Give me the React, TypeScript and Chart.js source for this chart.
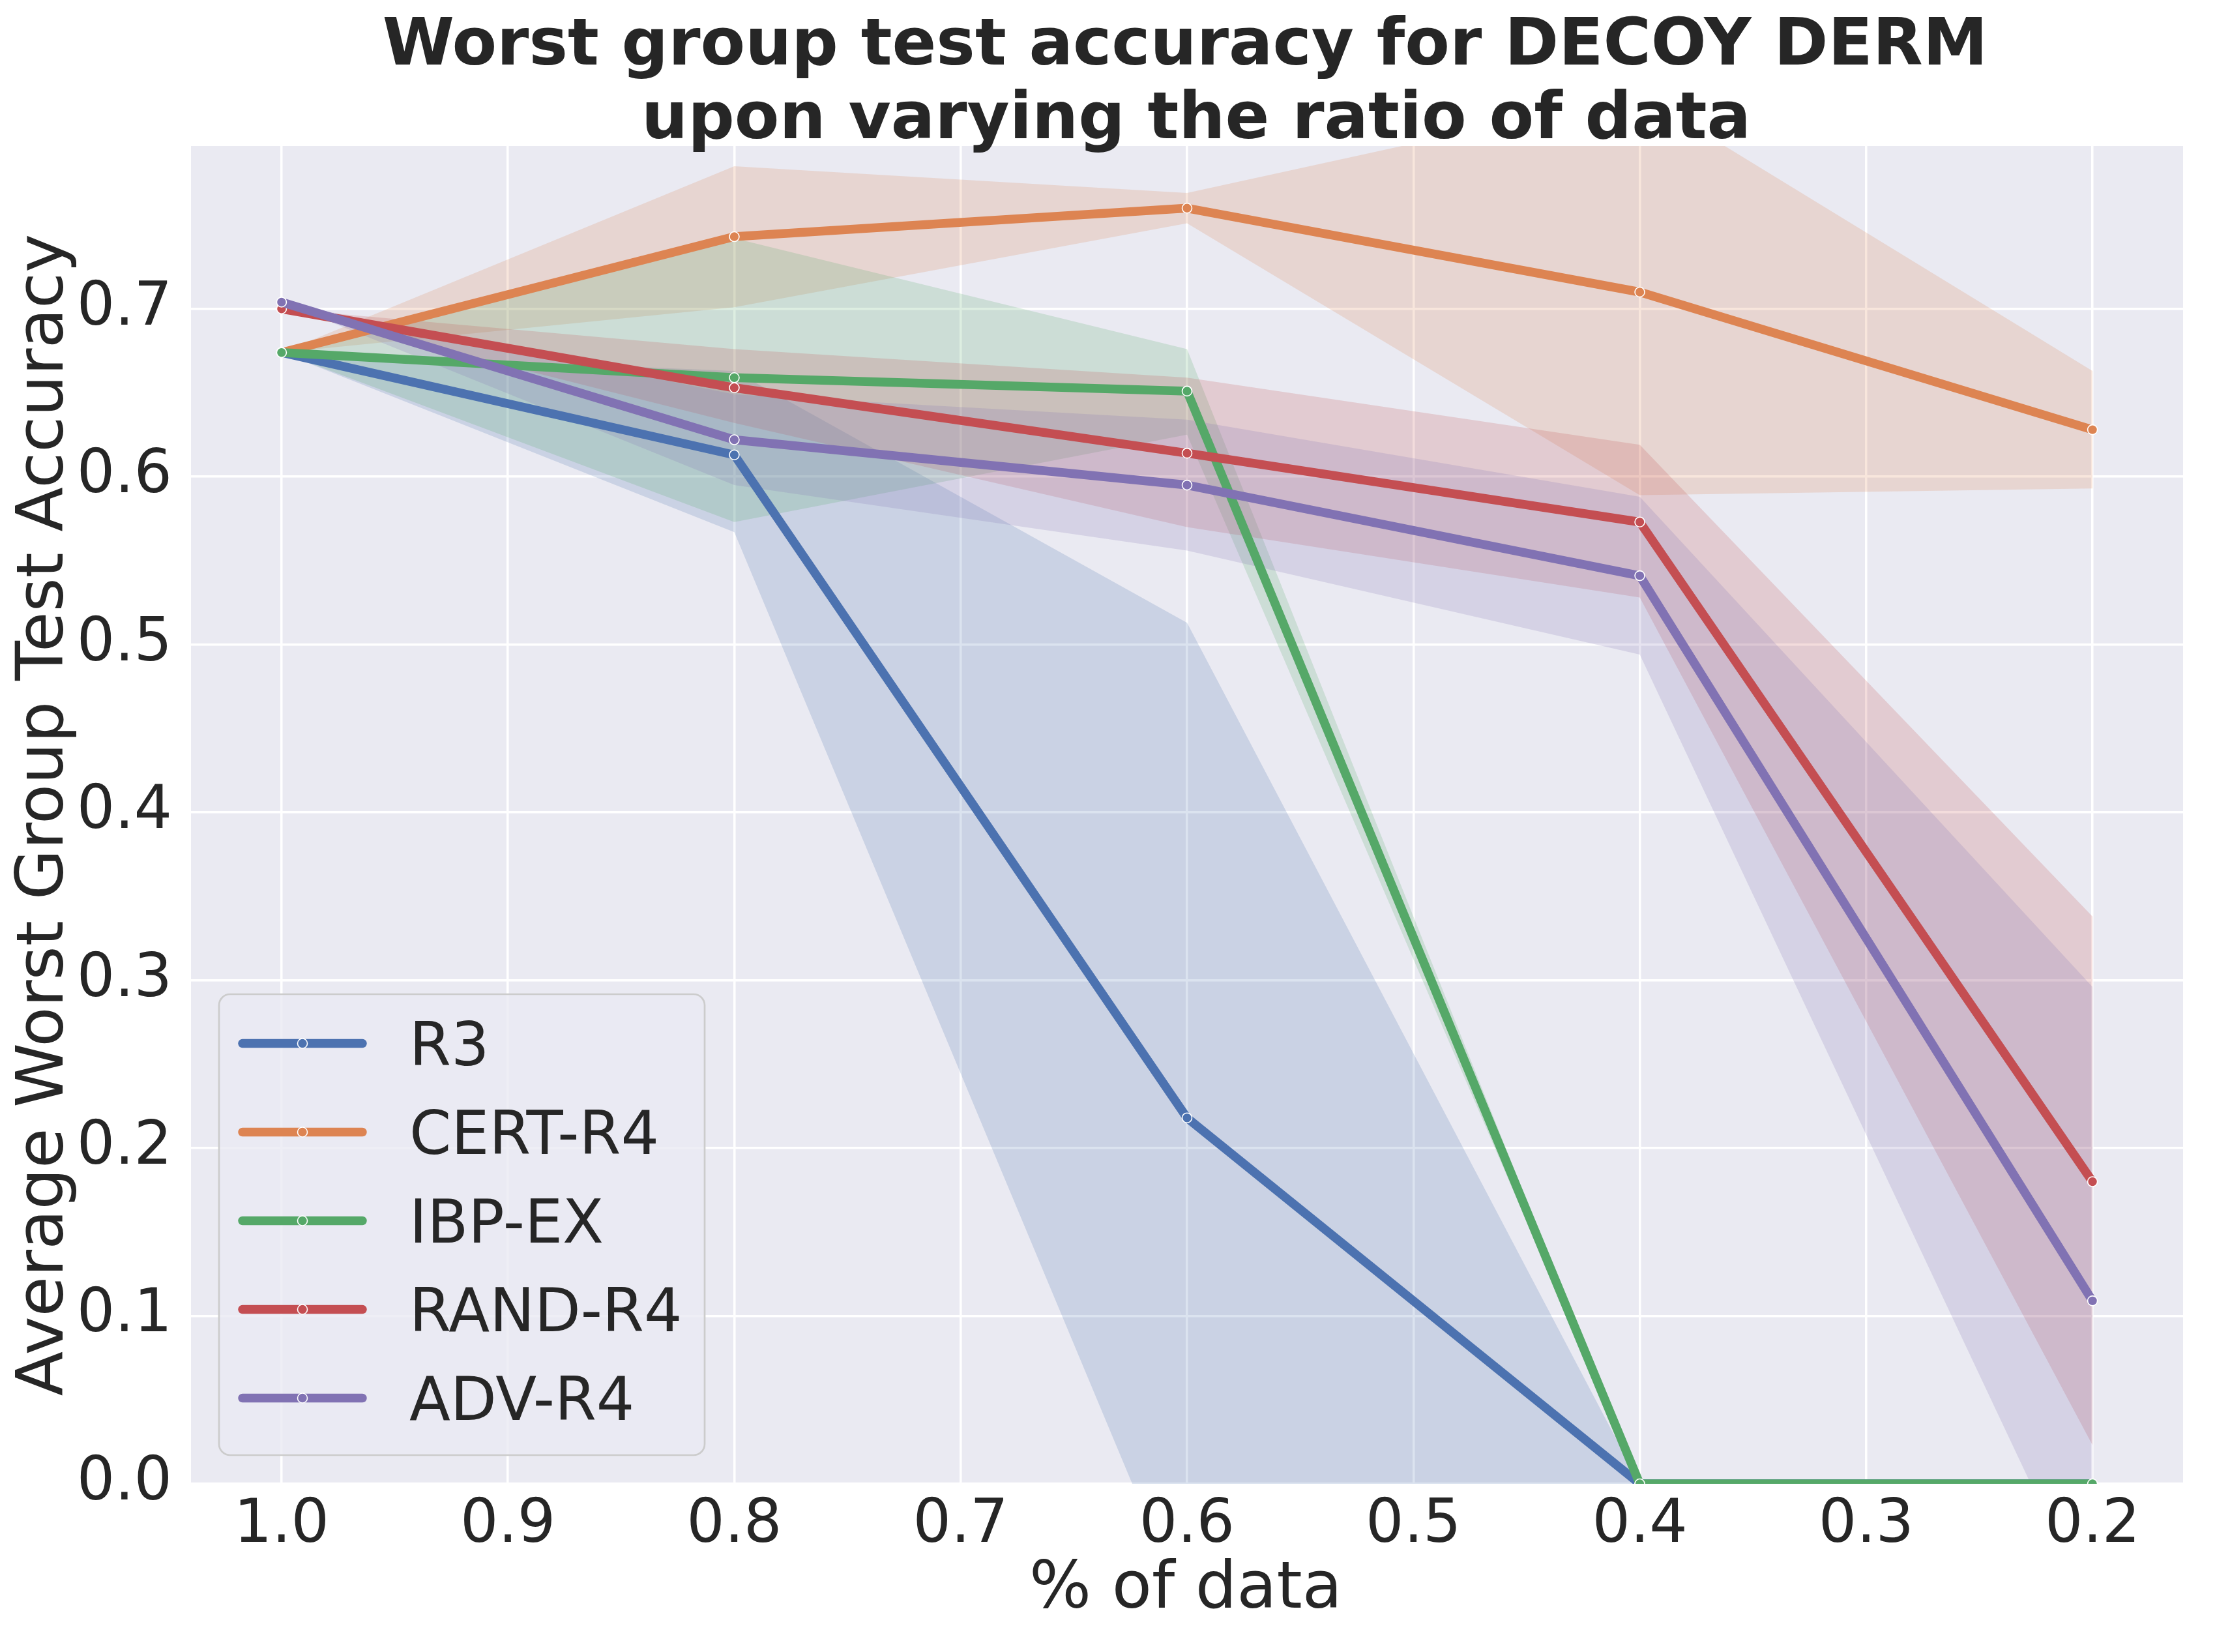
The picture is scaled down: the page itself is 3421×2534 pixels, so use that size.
import { useEffect, useRef } from 'react';
import { Chart, registerables } from 'chart.js';

Chart.register(...registerables);

const W = 3421;
const H = 2534;
const FONT = '"DejaVu Sans", sans-serif';
const TEXT = '#262626';

// % of data (x axis, reversed)
const ratios = [1.0, 0.8, 0.6, 0.4, 0.2];
const xTickValues = [1.0, 0.9, 0.8, 0.7, 0.6, 0.5, 0.4, 0.3, 0.2];
const yTickValues = [0.0, 0.1, 0.2, 0.3, 0.4, 0.5, 0.6, 0.7];

const seriesNames = ['R3', 'CERT-R4', 'IBP-EX', 'RAND-R4', 'ADV-R4'];
const colors = ['#4c72b0', '#dd8452', '#55a868', '#c44e52', '#8172b3'];

// mean worst group accuracy
const r3Mean = [0.674, 0.613, 0.218, 0.0, 0.0];
const certMean = [0.674, 0.743, 0.76, 0.71, 0.628];
const ibpMean = [0.674, 0.659, 0.651, 0.0, 0.0];
const randMean = [0.7, 0.653, 0.614, 0.573, 0.18];
const advMean = [0.704, 0.622, 0.595, 0.541, 0.109];

// confidence band edges
const r3Upper = [0.674, 0.663, 0.513, 0.0, 0.0];
const r3Lower = [0.674, 0.567, -0.078, 0.0, 0.0];
const certUpper = [0.674, 0.785, 0.769, 0.828, 0.663];
const certLower = [0.674, 0.701, 0.751, 0.589, 0.593];
const ibpUpper = [0.674, 0.742, 0.676, 0.0, 0.0];
const ibpLower = [0.674, 0.573, 0.625, 0.0, 0.0];
const randUpper = [0.7, 0.676, 0.659, 0.619, 0.338];
const randLower = [0.7, 0.632, 0.57, 0.528, 0.023];
const advUpper = [0.704, 0.649, 0.634, 0.588, 0.296];
const advLower = [0.704, 0.595, 0.556, 0.494, -0.078];

const means = [r3Mean, certMean, ibpMean, randMean, advMean];
const uppers = [r3Upper, certUpper, ibpUpper, randUpper, advUpper];
const lowers = [r3Lower, certLower, ibpLower, randLower, advLower];

const titleLines = ['Worst group test accuracy for DECOY DERM', 'upon varying the ratio of data'];
const xLabel = '% of data';
const yLabel = 'Average Worst Group Test Accuracy';

function rgba(hex: string, a: number) {
  const n = parseInt(hex.slice(1), 16);
  return `rgba(${(n >> 16) & 255}, ${(n >> 8) & 255}, ${n & 255}, ${a})`;
}

const pts = (ys: number[]) => ratios.map((x, i) => ({ x, y: ys[i] }));

const decor = {
  id: 'decor',
  beforeDraw(chart: Chart) {
    const { ctx, chartArea: a } = chart;
    ctx.save();
    ctx.fillStyle = '#ffffff';
    ctx.fillRect(0, 0, chart.width, chart.height);
    ctx.fillStyle = '#eaeaf2';
    ctx.fillRect(a.left, a.top, a.right - a.left, a.bottom - a.top);
    ctx.restore();
  },
  afterDraw(chart: Chart) {
    const { ctx, chartArea: a } = chart;
    const cx = (a.left + a.right) / 2;

    ctx.save();
    ctx.fillStyle = TEXT;
    ctx.textAlign = 'center';
    ctx.textBaseline = 'alphabetic';
    ctx.font = `bold 100px ${FONT}`;
    ctx.fillText(titleLines[0], cx - 3, 99);
    ctx.fillText(titleLines[1], cx + 14, 212);

    ctx.font = `100px ${FONT}`;
    ctx.fillText(xLabel, cx - 2, 2466);

    ctx.translate(96, (a.top + a.bottom) / 2);
    ctx.rotate(-Math.PI / 2);
    ctx.font = `100px ${FONT}`;
    ctx.fillText(yLabel, 0, 0);
    ctx.restore();

    // legend
    ctx.save();
    ctx.beginPath();
    ctx.roundRect(336, 1525, 745, 707, 17);
    ctx.fillStyle = 'rgba(234, 234, 242, 0.8)';
    ctx.fill();
    ctx.lineWidth = 2.7;
    ctx.strokeStyle = '#cccccc';
    ctx.stroke();

    ctx.font = `92px ${FONT}`;
    ctx.textAlign = 'left';
    ctx.textBaseline = 'alphabetic';
    seriesNames.forEach((name, i) => {
      const y = 1600.5 + 136 * i;
      ctx.beginPath();
      ctx.moveTo(372, y);
      ctx.lineTo(556, y);
      ctx.lineCap = 'round';
      ctx.lineWidth = 13.5;
      ctx.strokeStyle = colors[i];
      ctx.stroke();

      ctx.beginPath();
      ctx.arc(464, y, 7.5, 0, Math.PI * 2);
      ctx.fillStyle = colors[i];
      ctx.fill();
      ctx.lineWidth = 1.6;
      ctx.strokeStyle = '#ffffff';
      ctx.stroke();

      ctx.fillStyle = TEXT;
      ctx.fillText(name, 628, y + 33);
    });
    ctx.restore();
  },
};

export default function App() {
  const canvasRef = useRef<HTMLCanvasElement>(null);
  const chartRef = useRef<Chart | null>(null);

  useEffect(() => {
    document.body.style.margin = '0';
    if (!canvasRef.current) return;
    const ctx = canvasRef.current.getContext('2d');
    if (!ctx) return;

    const bandSets = seriesNames.flatMap((name, i) => [
      {
        label: `${name} upper`,
        data: pts(uppers[i]),
        borderWidth: 0,
        borderColor: 'transparent',
        pointRadius: 0,
        fill: false,
        order: 20 - i,
      },
      {
        label: `${name} lower`,
        data: pts(lowers[i]),
        borderWidth: 0,
        borderColor: 'transparent',
        pointRadius: 0,
        fill: 2 * i,
        backgroundColor: rgba(colors[i], 0.2),
        order: 20 - i,
      },
    ]);

    const lineSets = seriesNames.map((name, i) => ({
      label: name,
      data: pts(means[i]),
      borderColor: colors[i],
      borderWidth: 13.5,
      borderCapStyle: 'round' as const,
      borderJoinStyle: 'round' as const,
      pointRadius: 7.5,
      pointBackgroundColor: colors[i],
      pointBorderColor: '#ffffff',
      pointBorderWidth: 1.6,
      fill: false,
      clip: 0,
      order: 10 - i,
    }));

    const tickFont = { family: FONT, size: 92 };

    chartRef.current?.destroy();
    chartRef.current = new Chart(ctx, {
      type: 'line',
      data: { datasets: [...bandSets, ...lineSets] as any },
      plugins: [decor],
      options: {
        responsive: false,
        devicePixelRatio: 1,
        animation: false,
        events: [],
        layout: { padding: { left: 0, top: 224, right: 72, bottom: 0 } },
        plugins: {
          legend: { display: false },
          title: { display: false },
          tooltip: { enabled: false },
          filler: { drawTime: 'beforeDatasetsDraw' },
        },
        scales: {
          x: {
            type: 'linear',
            reverse: true,
            min: 0.16,
            max: 1.04,
            afterBuildTicks: (s: any) => { s.ticks = xTickValues.map((value) => ({ value })); },
            afterFit: (s: any) => { s.height = H - 2276; },
            grid: { color: '#ffffff', lineWidth: 3.5, drawTicks: false },
            border: { display: false },
            ticks: {
              font: tickFont,
              color: TEXT,
              padding: 10,
              maxRotation: 0,
              autoSkip: false,
              callback: (v: any) => Number(v).toFixed(1),
            },
          },
          y: {
            type: 'linear',
            min: 0,
            max: 0.797,
            afterBuildTicks: (s: any) => { s.ticks = yTickValues.map((value) => ({ value })); },
            afterFit: (s: any) => { s.width = 293; },
            grid: { color: '#ffffff', lineWidth: 3.5, drawTicks: false },
            border: { display: false },
            ticks: {
              font: tickFont,
              color: TEXT,
              padding: 29,
              autoSkip: false,
              callback: (v: any) => Number(v).toFixed(1),
            },
          },
        },
      },
    });

    return () => { chartRef.current?.destroy(); };
  }, []);

  return <canvas ref={canvasRef} width={W} height={H} style={{ display: 'block' }} />;
}
